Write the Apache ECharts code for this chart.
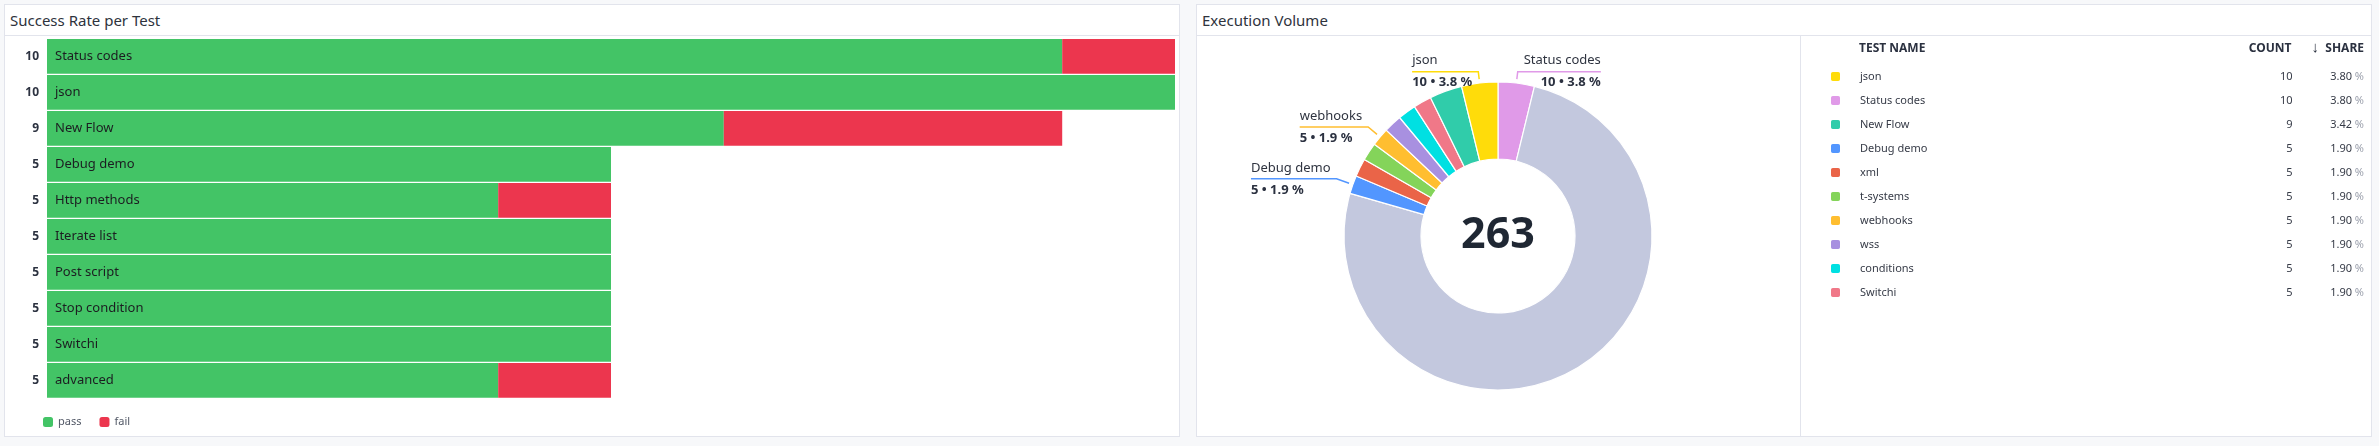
<!DOCTYPE html>
<html>
<head>
<meta charset="utf-8">
<script src="https://cdn.jsdelivr.net/npm/echarts@6/dist/echarts.min.js"></script>
<style>
  html, body { margin: 0; padding: 0; width: 2379px; height: 446px; background: #f7f8fa; overflow: hidden; font-family: 'Noto Sans', sans-serif; }
  .panel { position: absolute; top: 4px; height: 433px; width: 1176px; box-sizing: border-box; border: 1px solid #e2e4ec; background: #fff; }
  .panel .hdr { height: 30px; border-bottom: 1px solid #e2e4ec; font-size: 15px; line-height: 30px; padding-left: 5px; color: #2e333d; }
  #p1 { left: 4px; }
  #p2 { left: 1196px; }
  #sep { position: absolute; left: 1800px; top: 35px; width: 1px; height: 401px; background: #e2e4ec; }
  #chart { position: absolute; left: 0; top: 0; width: 2379px; height: 446px; }
</style>
</head>
<body>
<div class="panel" id="p1"><div class="hdr">Success Rate per Test</div></div>
<div class="panel" id="p2"><div class="hdr">Execution Volume</div></div>
<div id="sep"></div>
<div id="chart"></div>
<script>
// ---------- Success Rate per Test ----------
const testCategories = ['Status codes', 'json', 'New Flow', 'Debug demo', 'Http methods', 'Iterate list', 'Post script', 'Stop condition', 'Switchi', 'advanced'];
const passCounts = [9, 10, 6, 5, 4, 5, 5, 5, 5, 4];
const failCounts = [1, 0, 3, 0, 1, 0, 0, 0, 0, 1];
const runTotals = [10, 10, 9, 5, 5, 5, 5, 5, 5, 5];
const resultSeriesNames = ['pass', 'fail'];

// ---------- Execution Volume ----------
const volumeNames = ['json', 'Status codes', 'New Flow', 'Debug demo', 'xml', 't-systems', 'webhooks', 'wss', 'conditions', 'Switchi'];
const volumeCounts = [10, 10, 9, 5, 5, 5, 5, 5, 5, 5];
const otherName = 'Other';
const otherCount = 199;
const totalExecutions = 263;
const sliceOrder = ['Status codes', 'Other', 'Debug demo', 'xml', 't-systems', 'webhooks', 'wss', 'conditions', 'Switchi', 'New Flow', 'json'];
const labeledSlices = ['json', 'Status codes', 'webhooks', 'Debug demo'];
const tableHeaders = ['TEST NAME', 'COUNT', 'SHARE'];

// ---------- styles ----------
const FONT = "'Noto Sans', sans-serif";
const sliceColors = {
  'json': '#ffdc0a', 'Status codes': '#e09ae8', 'New Flow': '#30ccaa', 'Debug demo': '#5296ff',
  'xml': '#ea6448', 't-systems': '#84d45a', 'webhooks': '#ffbe30', 'wss': '#a890e0',
  'conditions': '#00e0e2', 'Switchi': '#f07888', 'Other': '#c3c8de'
};
const labelLineLength = { 'json': 11.5, 'Status codes': 11.5, 'webhooks': 15.6, 'Debug demo': 17.3 };
const PIE_CENTER = [1498, 236];

function countOf(name) {
  return name === otherName ? otherCount : volumeCounts[volumeNames.indexOf(name)];
}

let cum = 0;
const pieData = sliceOrder.map(function (name) {
  const v = countOf(name);
  const mid = (cum + v / 2) / totalExecutions;
  cum += v;
  const right = mid < 0.5;
  const show = labeledSlices.indexOf(name) >= 0;
  const pct = (v / totalExecutions * 100).toFixed(1);
  const n = right ? 'nr' : 'nl';
  const val = right ? 'vr' : 'vl';
  return {
    name: name,
    value: v,
    itemStyle: { color: sliceColors[name] },
    label: { show: show, formatter: '{' + n + '|' + name + '}\n{' + val + '|' + v + ' \u2022 ' + pct + ' %}' },
    labelLine: { show: show, length: labelLineLength[name] || 12 }
  };
});

const chart = echarts.init(document.getElementById('chart'), null, { renderer: 'canvas' });

const option = {
  animation: false,
  textStyle: { fontFamily: FONT },
  title: [
    { text: tableHeaders[0], left: 1859, top: 41, padding: 0, textStyle: { fontFamily: FONT, fontSize: 12, fontWeight: 'bold', color: '#2b3140', lineHeight: 16 } },
    { text: tableHeaders[1], right: 2379 - 2291.5, top: 41, padding: 0, textStyle: { fontFamily: FONT, fontSize: 12, fontWeight: 'bold', color: '#2b3140', lineHeight: 16 } },
    { text: tableHeaders[2], right: 2379 - 2364, top: 41, padding: 0, textStyle: { fontFamily: FONT, fontSize: 12, fontWeight: 'bold', color: '#2b3140', lineHeight: 16 } },
    { text: '\u2193', right: 2379 - 2319, top: 39, padding: 0, textStyle: { fontFamily: FONT, fontSize: 15, fontWeight: 'normal', color: '#2b3140', lineHeight: 18 } }
  ],
  legend: [
    {
      data: resultSeriesNames,
      left: 43, top: 416, padding: 0,
      icon: 'roundRect', itemWidth: 10, itemHeight: 10, itemGap: 18,
      selectedMode: false,
      textStyle: { fontFamily: FONT, fontSize: 11, color: '#525866', lineHeight: 12 }
    },
    {
      data: volumeNames,
      orient: 'vertical',
      left: 1829, top: 70, padding: 0,
      icon: 'roundRect', itemWidth: 11, itemHeight: 11, itemGap: 11,
      selectedMode: false,
      formatter: function (name) {
        const i = volumeNames.indexOf(name);
        const c = volumeCounts[i];
        const s = (c / totalExecutions * 100).toFixed(2);
        return '{g| }{n|' + name + '}{c|' + c + '}{s|' + s + '}{p|%}';
      },
      textStyle: {
        fontFamily: FONT, fontSize: 11, color: '#363b47', lineHeight: 13,
        rich: {
          g: { width: 14, align: 'left', fontSize: 11, lineHeight: 13 },
          n: { width: 392.5, align: 'left', fontSize: 11, lineHeight: 13, color: '#363b47' },
          c: { width: 40, align: 'right', fontSize: 11, lineHeight: 13, color: '#363b47' },
          s: { width: 59.5, align: 'right', fontSize: 11, lineHeight: 13, color: '#363b47' },
          p: { width: 12, align: 'right', fontSize: 11, lineHeight: 13, color: '#9ca1ad' }
        }
      }
    }
  ],
  grid: [{ left: 47, top: 38.4, width: 1128, height: 360, containLabel: false }],
  xAxis: [{ type: 'value', min: 0, max: Math.max.apply(null, runTotals), show: false, gridIndex: 0 }],
  yAxis: [{
    type: 'category', data: testCategories, inverse: true, gridIndex: 0,
    axisLine: { show: false }, axisTick: { show: false }, splitLine: { show: false },
    axisLabel: {
      formatter: function (v, i) { return String(runTotals[i]); },
      fontFamily: FONT, fontWeight: 'bold', fontSize: 12, color: '#2c3240', margin: 8
    }
  }],
  graphic: [{
    type: 'text', x: PIE_CENTER[0], y: PIE_CENTER[1], silent: true,
    style: { text: String(totalExecutions), font: "bold 43px 'Noto Sans'", fill: '#1f2733', align: 'center', verticalAlign: 'middle', textAlign: 'center', textVerticalAlign: 'middle' }
  }],
  series: [
    {
      type: 'bar', name: resultSeriesNames[0], stack: 'runs', data: passCounts,
      barCategoryGap: '3.6%',
      itemStyle: { color: '#43c466' },
      label: {
        show: true, position: 'insideLeft', distance: 8,
        formatter: function (p) { return testCategories[p.dataIndex]; },
        color: '#1c1d21', fontSize: 13, fontFamily: FONT
      },
      emphasis: { disabled: true }
    },
    {
      type: 'bar', name: resultSeriesNames[1], stack: 'runs', data: failCounts,
      barCategoryGap: '3.6%',
      itemStyle: { color: '#ec364e' },
      emphasis: { disabled: true }
    },
    {
      type: 'pie', name: 'Execution Volume',
      center: PIE_CENTER, radius: [77, 154],
      startAngle: 90, clockwise: true,
      avoidLabelOverlap: false,
      data: pieData,
      itemStyle: { borderColor: '#ffffff', borderWidth: 1.2 },
      label: {
        position: 'outside', alignTo: 'none', distanceToLabelLine: 5, fontFamily: FONT,
        rich: {
          nl: { fontSize: 13, color: '#2f3440', lineHeight: 22, align: 'left', fontFamily: FONT },
          vl: { fontSize: 13, fontWeight: 'bold', color: '#2b3140', lineHeight: 22, align: 'left', fontFamily: FONT },
          nr: { fontSize: 13, color: '#2f3440', lineHeight: 22, align: 'right', fontFamily: FONT },
          vr: { fontSize: 13, fontWeight: 'bold', color: '#2b3140', lineHeight: 22, align: 'right', fontFamily: FONT }
        }
      },
      labelLine: { length: 12, length2: 1, lineStyle: { width: 1.5 } },
      labelLayout: function (params) {
        const pts = params.labelLinePoints;
        const r = params.labelRect;
        if (!pts || !r) return {};
        const p0 = pts[0].slice(), p1 = pts[1].slice(), p2 = pts[2].slice();
        const dx = p1[0] - p0[0], dy = p1[1] - p0[1];
        const len = Math.hypot(dx, dy) || 1;
        const gap = Math.min(4, len * 0.4);
        p0[0] += dx / len * gap; p0[1] += dy / len * gap;
        const isLeft = (r.x + r.width / 2) < p1[0];
        p2[0] = isLeft ? r.x : r.x + r.width;
        p2[1] = p1[1];
        return { labelLinePoints: [p0, p1, p2] };
      },
      emphasis: { disabled: true }
    }
  ]
};
chart.setOption(option);
</script>
</body>
</html>
